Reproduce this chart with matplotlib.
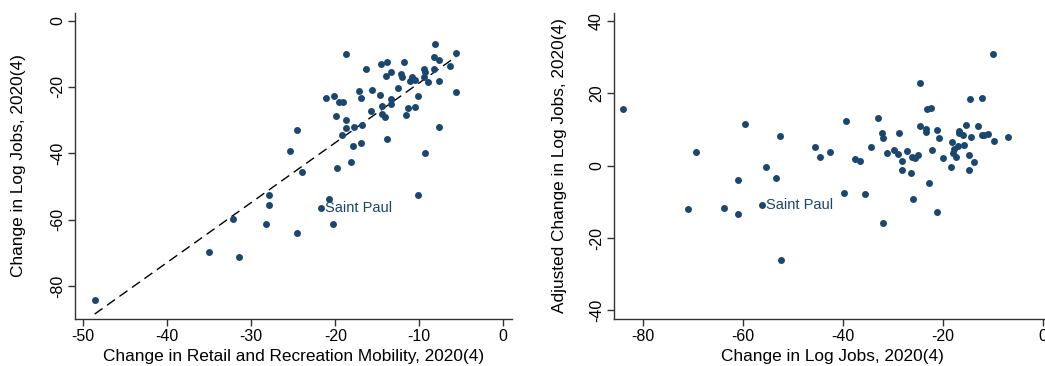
import numpy as np
import matplotlib
matplotlib.use("Agg")
import matplotlib.pyplot as plt

plt.rcParams['font.family'] = ['Liberation Sans', 'DejaVu Sans']
plt.rcParams['axes.unicode_minus'] = False

# left panel: mobility change vs change in log jobs
mob = [-48.65, -35.0, -31.5, -32.2, -28.3, -27.9, -27.9, -24.6, -25.4, -24.5,
       -24.0, -20.8, -21.7, -20.3, -18.7, -21.1, -20.2, -19.5, -19.1, -19.9,
       -18.7, -18.7, -19.2, -19.8, -18.1, -17.9, -17.8, -16.9, -16.8, -17.2,
       -16.9, -16.4, -15.6, -15.8, -14.7, -14.4, -14.4, -14.1, -13.9, -14.5,
       -13.9, -14.0, -13.4, -13.4, -13.4, -12.5, -11.8, -12.2, -12.1, -11.6,
       -11.3, -10.5, -10.9, -11.1, -10.5, -10.2, -9.3, -10.1, -9.4, -9.3,
       -9.4, -9.0, -8.3, -8.1, -7.7, -8.3, -7.7, -7.6, -6.4, -5.6, -5.6]
jobs = [-84.3, -69.6, -71.1, -59.7, -61.2, -52.6, -55.6, -63.9, -39.4, -33.0,
        -45.7, -53.6, -56.5, -61.2, -10.1, -23.2, -22.6, -24.6, -24.6, -28.8,
        -29.8, -32.3, -34.5, -44.5, -42.7, -37.7, -32.0, -36.8, -31.3, -21.3,
        -23.4, -14.7, -20.9, -27.3, -22.3, -25.6, -28.2, -29.1, -35.7, -13.2,
        -12.4, -16.8, -15.5, -23.5, -25.1, -20.2, -12.5, -16.2, -17.0, -28.3,
        -26.2, -26.0, -16.9, -18.2, -17.9, -22.8, -39.9, -52.5, -14.6, -15.6,
        -16.9, -18.4, -11.1, -6.9, -12.0, -14.7, -18.2, -32.1, -13.8, -9.9, -21.4]
sp_left = (-21.7, -56.5)

# right panel: change in log jobs vs adjusted change
jobs2 = [-84.1, -71.0, -69.5, -63.8, -61.1, -61.1, -59.6, -56.3, -55.5, -53.4,
         -52.5, -52.3, -45.5, -44.5, -42.6, -39.8, -39.3, -37.6, -36.6, -35.6,
         -34.3, -32.9, -32.1, -31.9, -31.9, -31.1, -29.7, -28.9, -28.7, -28.2,
         -28.2, -27.2, -26.4, -26.2, -25.9, -25.6, -24.9, -24.6, -24.6, -23.4,
         -23.4, -23.1, -22.4, -22.7, -22.2, -21.2, -21.2, -20.8, -20.0, -18.4,
         -18.1, -18.0, -17.7, -17.3, -16.9, -16.7, -16.8, -16.0, -15.8, -15.4,
         -14.8, -14.7, -14.6, -14.4, -13.7, -13.0, -12.2, -12.2, -11.7, -10.9,
         -9.9, -9.8, -6.9]
adj = [15.7, -11.9, 3.9, -11.7, -4.1, -13.4, 11.4, -11.0, -0.3, -3.3,
       8.3, -26.2, 5.2, 2.4, 3.8, -7.6, 12.4, 1.8, 1.2, -7.9,
       5.2, 13.2, 9.1, 7.6, -15.9, 3.4, 4.2, 3.1, 9.0, 1.4,
       -1.2, 4.0, -2.1, 2.5, -9.1, 2.0, 3.0, 22.8, 11.0, 10.2,
       9.4, 15.6, 16.0, -4.8, 4.2, 9.8, -12.8, 7.7, 2.2, -0.3,
       6.6, 3.6, 4.6, 2.3, 5.4, 9.7, 9.0, 8.5, 5.7, 11.1,
       3.0, -1.2, 18.3, 7.8, 1.0, 10.9, 18.8, 8.5, 8.5, 8.7,
       30.8, 6.9, 7.8]
sp_right = (-56.3, -11.0)

navy = '#1a476f'
W, H = 1045, 366
fig = plt.figure(figsize=(W / 100, H / 100), dpi=100)
ax1 = fig.add_axes([75.3 / W, 1 - 318.7 / H, 436.4 / W, 305.4 / H])
ax2 = fig.add_axes([614.3 / W, 1 - 318.7 / H, 436.7 / W, 305.4 / H])


def style(ax):
    for s in ['top', 'right']:
        ax.spines[s].set_visible(False)
    for s in ['left', 'bottom']:
        ax.spines[s].set_color('#333333')
        ax.spines[s].set_linewidth(1.0)
    ax.tick_params(direction='out', length=5, width=1, color='#333333',
                   labelsize=11.5)
    ax.tick_params(axis='y', pad=2.5)
    ax.tick_params(axis='x', pad=2.5)
    for lab in ax.get_yticklabels():
        lab.set_rotation(90)
        lab.set_va('center')


# left
ax1.scatter(mob, jobs, s=25, color=navy, linewidths=0, zorder=3)
A, B = np.polyfit(mob, jobs, 1)
xf = np.array([min(mob), max(mob)])
ax1.plot(xf, A * xf + B, color='black', lw=1, ls=(0, (7, 4)), zorder=2)
ax1.annotate('Saint Paul', sp_left, xytext=(3, 0), textcoords='offset points',
             color=navy, fontsize=10.5, va='center')
ax1.set_xlim(-50.95, 1.0)
ax1.set_ylim(-89.8, 2.2)
ax1.set_xticks([-50, -40, -30, -20, -10, 0])
ax1.set_yticks([0, -20, -40, -60, -80])
ax1.set_xlabel('Change in Retail and Recreation Mobility, 2020(4)', fontsize=12.4)
ax1.set_ylabel('Change in Log Jobs, 2020(4)', fontsize=12.4)
ax1.xaxis.set_label_coords(0.5, -0.10)
ax1.yaxis.set_label_coords(-0.112, 0.5)
style(ax1)

# right
ax2.scatter(jobs2, adj, s=25, color=navy, linewidths=0, zorder=3)
ax2.annotate('Saint Paul', sp_right, xytext=(3, 0), textcoords='offset points',
             color=navy, fontsize=10.5, va='center')
ax2.set_xlim(-85.8, 1.7)
ax2.set_ylim(-42.3, 42.1)
ax2.set_xticks([-80, -60, -40, -20, 0])
ax2.set_yticks([40, 20, 0, -20, -40])
ax2.set_xlabel('Change in Log Jobs, 2020(4)', fontsize=12.4)
ax2.set_ylabel('Adjusted Change in Log Jobs, 2020(4)', fontsize=12.4)
ax2.xaxis.set_label_coords(0.5, -0.10)
ax2.yaxis.set_label_coords(-0.108, 0.5)
style(ax2)

fig.savefig('out.png', dpi=100)
